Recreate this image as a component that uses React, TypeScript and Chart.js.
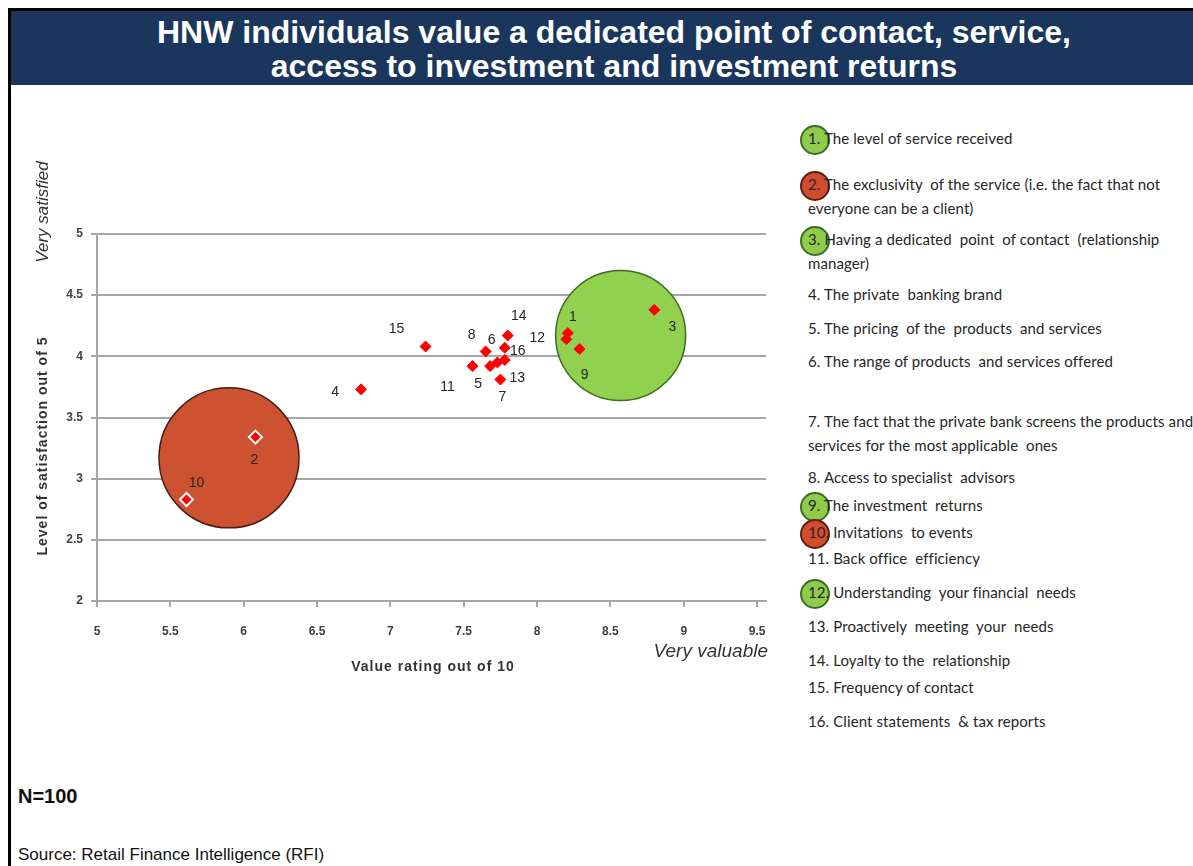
import React, { useEffect, useRef } from "react";
import { Chart, registerables } from "chart.js";

Chart.register(...registerables);

// ---------- DATA ----------
const itemNumbers = ["1", "2", "3", "4", "5", "6", "7", "8", "9", "10", "11", "12", "13", "14", "15", "16"];
const valueRating = [8.21, 6.08, 8.8, 6.8, 7.68, 7.78, 7.73, 7.65, 8.29, 5.61, 7.56, 8.2, 7.75, 7.8, 7.24, 7.78];
const satisfactionScore = [4.19, 3.34, 4.38, 3.73, 3.92, 4.07, 3.95, 4.04, 4.06, 2.83, 3.92, 4.14, 3.81, 4.17, 4.08, 3.97];

const highlightX = [5.9, 8.57];
const highlightY = [3.17, 4.17];
const highlightR = [70, 65];

const xTickValues = [5, 5.5, 6, 6.5, 7, 7.5, 8, 8.5, 9, 9.5];
const yTickValues = [2, 2.5, 3, 3.5, 4, 4.5, 5];

const greenItems = ["1", "3", "9", "12"];
const redItems = ["2", "10"];

const legendTexts: string[][] = [
  ["1. The level of service received"],
  ["2. The exclusivity  of the service (i.e. the fact that not", "everyone can be a client)"],
  ["3. Having a dedicated  point  of contact  (relationship", "manager)"],
  ["4. The private  banking brand"],
  ["5. The pricing  of the  products  and services"],
  ["6. The range of products  and services offered"],
  ["7. The fact that the private bank screens the products and", "services for the most applicable  ones"],
  ["8. Access to specialist  advisors"],
  ["9. The investment  returns"],
  ["10. Invitations  to events"],
  ["11. Back office  efficiency"],
  ["12. Understanding  your financial  needs"],
  ["13. Proactively  meeting  your  needs"],
  ["14. Loyalty to the  relationship"],
  ["15. Frequency of contact"],
  ["16. Client statements  & tax reports"],
];

// ---------- LAYOUT / STYLE ----------
const labelOffsets: number[][] = [
  [5, -16], [-1, 23], [18, 17], [-26, 3], [-12, 18], [-13, -8], [5, 35], [-14, -16],
  [5, 26], [10, -16], [-25, 21], [-29, -1], [17, -1], [11, -19], [-29, -17], [13, -9],
];
const legendCenters = [139, 185, 240, 295, 329, 362, 422, 478, 506, 533, 559, 593, 627, 661, 688, 722];

const SANS = "'Liberation Sans', Arial, sans-serif";

const annotationPlugin = {
  id: "annotations",
  afterDatasetsDraw(chart: any) {
    const ctx = chart.ctx;
    const meta = chart.getDatasetMeta(0);
    ctx.save();
    ctx.font = `14px ${SANS}`;
    ctx.fillStyle = "#262626";
    ctx.textAlign = "center";
    ctx.textBaseline = "middle";
    meta.data.forEach((el: any, i: number) => {
      const [dx, dy] = labelOffsets[i];
      ctx.fillText(itemNumbers[i], el.x + dx, el.y + dy);
    });

    const { left, right, top, bottom } = chart.chartArea;
    ctx.save();
    ctx.translate(left - 54, top - 22);
    ctx.rotate(-Math.PI / 2);
    ctx.font = `italic 17px ${SANS}`;
    ctx.fillStyle = "#333333";
    ctx.fillText("Very satisfied", 0, 0);
    ctx.restore();

    ctx.save();
    ctx.translate(left - 54, top + 212);
    ctx.rotate(-Math.PI / 2);
    ctx.font = `bold 14px ${SANS}`;
    (ctx as any).letterSpacing = "1px";
    ctx.fillStyle = "#333333";
    ctx.fillText("Level of satisfaction out of 5", 0, 0);
    ctx.restore();

    ctx.save();
    ctx.font = `bold 14px ${SANS}`;
    (ctx as any).letterSpacing = "1px";
    ctx.fillStyle = "#333333";
    ctx.fillText("Value rating out of 10", left + 336, bottom + 66);
    ctx.restore();

    ctx.font = `italic 19px ${SANS}`;
    ctx.fillStyle = "#333333";
    ctx.textAlign = "right";
    ctx.fillText("Very valuable", right + 2, bottom + 51);
    ctx.restore();
  },
};

function ScatterChart() {
  const canvasRef = useRef<HTMLCanvasElement | null>(null);

  useEffect(() => {
    if (!canvasRef.current) return;
    const chart = new Chart(canvasRef.current, {
      type: "scatter",
      data: {
        datasets: [
          {
            type: "scatter",
            label: "Items",
            data: valueRating.map((x, i) => ({ x, y: satisfactionScore[i] })),
            pointStyle: "rectRot",
            pointRadius: itemNumbers.map((n) => (redItems.includes(n) ? 6.5 : 5.5)),
            pointBackgroundColor: "#ff0000",
            pointBorderColor: itemNumbers.map((n) => (redItems.includes(n) ? "#ffffff" : "#ff0000")),
            pointBorderWidth: itemNumbers.map((n) => (redItems.includes(n) ? 2 : 1)),
            order: 1,
          } as any,
          {
            type: "bubble",
            label: "Highlights",
            data: highlightX.map((x, i) => ({ x, y: highlightY[i], r: highlightR[i] })),
            backgroundColor: ["#cd5232", "#92d050"],
            borderColor: ["#4a1e10", "#3f6b1f"],
            borderWidth: 1.5,
            order: 2,
          } as any,
        ],
      },
      options: {
        animation: false,
        responsive: false,
        devicePixelRatio: 1,
        events: [],
        layout: { autoPadding: false, padding: { top: 114, right: 25, left: 0, bottom: 0 } },
        plugins: { legend: { display: false }, tooltip: { enabled: false } },
        scales: {
          x: {
            type: "linear",
            min: 5,
            max: 9.561,
            afterBuildTicks: (s: any) => {
              s.ticks = xTickValues.map((v) => ({ value: v }));
            },
            afterFit: (s: any) => {
              s.height = 99;
              s.paddingLeft = 0;
              s.paddingRight = 0;
            },
            grid: { drawOnChartArea: false, drawTicks: true, tickLength: 6, color: "#a6a6a6", lineWidth: 2 },
            border: { display: true, color: "#a6a6a6", width: 2 },
            ticks: {
              padding: 17,
              color: "#404040",
              autoSkip: false,
              maxRotation: 0,
              font: { family: SANS, size: 12, weight: "bold" },
              callback: (v: any) => String(v),
            },
          },
          y: {
            type: "linear",
            min: 2,
            max: 5,
            afterBuildTicks: (s: any) => {
              s.ticks = yTickValues.map((v) => ({ value: v }));
            },
            afterFit: (s: any) => {
              s.width = 86;
              s.paddingTop = 0;
              s.paddingBottom = 0;
            },
            grid: { drawOnChartArea: true, drawTicks: true, tickLength: 6, color: "#a6a6a6", lineWidth: 2 },
            border: { display: true, color: "#a6a6a6", width: 2 },
            ticks: {
              padding: 8,
              color: "#404040",
              font: { family: SANS, size: 12, weight: "bold" },
              callback: (v: any) => String(v),
            },
          },
        },
      } as any,
      plugins: [annotationPlugin],
    });
    return () => chart.destroy();
  }, []);

  return (
    <canvas
      ref={canvasRef}
      width={780}
      height={580}
      style={{ position: "absolute", left: 11, top: 120, width: 780, height: 580, display: "block" }}
    />
  );
}

export default function App() {
  return (
    <div
      style={{
        position: "fixed",
        left: 0,
        top: 0,
        width: 1193,
        height: 866,
        overflow: "hidden",
        background: "#ffffff",
        fontFamily: SANS,
      }}
    >
      <div style={{ position: "absolute", left: 8, top: 8, width: 1185, height: 3, background: "#000" }} />
      <div style={{ position: "absolute", left: 8, top: 8, width: 3, height: 858, background: "#000" }} />
      <div style={{ position: "absolute", left: 11, top: 11, width: 1182, height: 74, background: "#1a365d" }} />
      <div
        style={{
          position: "absolute",
          left: 11,
          top: 15,
          width: 1206,
          textAlign: "center",
          color: "#ffffff",
          fontWeight: "bold",
          fontSize: 32,
          lineHeight: "34px",
          whiteSpace: "nowrap",
        }}
      >
        HNW individuals value a dedicated point of contact, service,
        <br />
        access to investment and investment returns
      </div>

      <ScatterChart />

      {legendTexts.map((lines, i) => {
        const num = itemNumbers[i];
        const isGreen = greenItems.includes(num);
        const isRed = redItems.includes(num);
        const cy = legendCenters[i];
        return (
          <React.Fragment key={num}>
            {(isGreen || isRed) && (
              <div
                style={{
                  position: "absolute",
                  left: 815 - 15,
                  top: cy + 1 - 15,
                  width: 26,
                  height: 26,
                  borderRadius: "50%",
                  background: isGreen ? "#8fcc4c" : "#d24c30",
                  border: `2px solid ${isGreen ? "#3b6e22" : "#5a1f10"}`,
                }}
              />
            )}
            <div
              style={{
                position: "absolute",
                left: 808,
                top: cy - 11.75,
                fontFamily: "Lato, 'Open Sans', sans-serif",
                fontSize: 15,
                letterSpacing: "0.1px",
                lineHeight: "23.5px",
                color: "#262626",
                whiteSpace: "pre",
              }}
            >
              {lines.map((l, k) => (
                <div key={k}>{l}</div>
              ))}
            </div>
          </React.Fragment>
        );
      })}

      <div style={{ position: "absolute", left: 18, top: 785, fontWeight: "bold", fontSize: 20, color: "#111" }}>N=100</div>
      <div style={{ position: "absolute", left: 18, top: 845, fontSize: 17, color: "#111" }}>
        Source: Retail Finance Intelligence (RFI)
      </div>
    </div>
  );
}
